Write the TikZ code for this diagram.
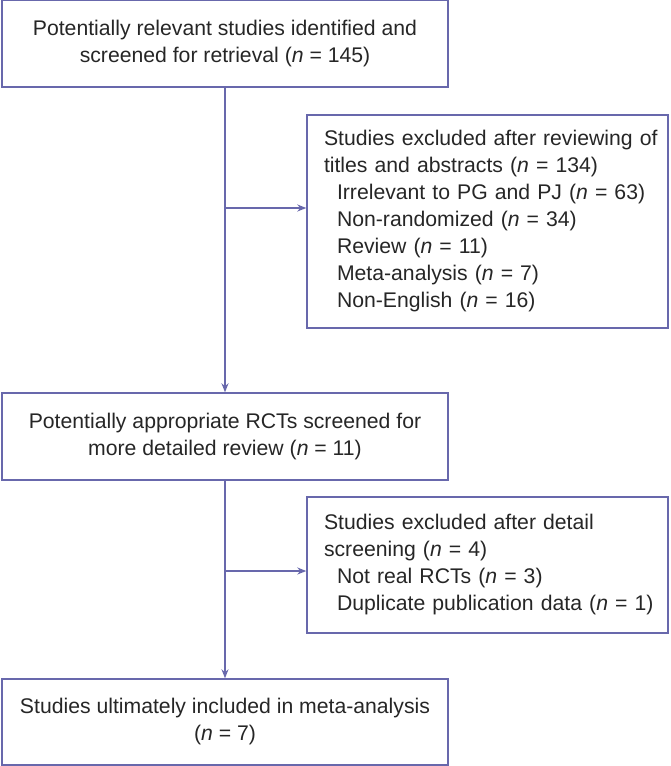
\documentclass[tikz,border=0pt]{standalone}
\usepackage{fontspec}
\setmainfont{Liberation Sans}
\usetikzlibrary{arrows.meta}
\definecolor{flowline}{RGB}{104,104,172}
\newcommand{\nn}{\textit{n}}
\newcommand{\ind}{\hspace*{13pt}}
\hbadness=10000 \hfuzz=50pt
\tikzset{
  box/.style={draw=flowline, line width=1.4pt, inner sep=0pt, font=\fontsize{21.2}{27}\selectfont, text=black!85},
  mainbox/.style={box, minimum width=446pt, minimum height=87pt, align=center},
  sidebox/.style={box, minimum width=361pt, align=left, text width=327pt, inner xsep=17pt},
  conn/.style={draw=flowline, line width=1.4pt},
  arr/.style={conn, -{Stealth[length=9pt,width=7pt]}}
}
\begin{document}
\begin{tikzpicture}[x=1pt,y=-1pt]
\useasboundingbox (0,0) rectangle (670,766);
\node[mainbox] (b1) at (225,43.5) {Potentially relevant studies identified and\\screened for retrieval (\nn{} = 145)};
\node[sidebox, minimum height=213pt] (b2) at (487.5,221.5) {\mbox{Studies excluded after reviewing of}\\\mbox{titles and abstracts (\nn{} = 134)}\\\mbox{\ind Irrelevant to PG and PJ (\nn{} = 63)}\\\ind Non-randomized (\nn{} = 34)\\\ind Review (\nn{} = 11)\\\ind Meta-analysis (\nn{} = 7)\\\ind Non-English (\nn{} = 16)};
\node[mainbox] (b3) at (225,436.5) {Potentially appropriate RCTs screened for\\more detailed review (\nn{} = 11)};
\node[sidebox, minimum height=136pt] (b4) at (487.5,565) {Studies excluded after detail\\screening (\nn{} = 4)\\\ind Not real RCTs (\nn{} = 3)\\\mbox{\ind Duplicate publication data (\nn{} = 1)}};
\node[mainbox, minimum height=86pt] (b5) at (225,722) {Studies ultimately included in meta-analysis\\(\nn{} = 7)};
\coordinate (j1) at (b1.south |- 0,208);
\coordinate (j2) at (b3.south |- 0,571);
\draw[arr] (b1.south) -- (b3.north);
\draw[arr] (j1) -- (b2.west |- j1);
\draw[arr] (b3.south) -- (b5.north);
\draw[arr] (j2) -- (b4.west |- j2);
\end{tikzpicture}
\end{document}
